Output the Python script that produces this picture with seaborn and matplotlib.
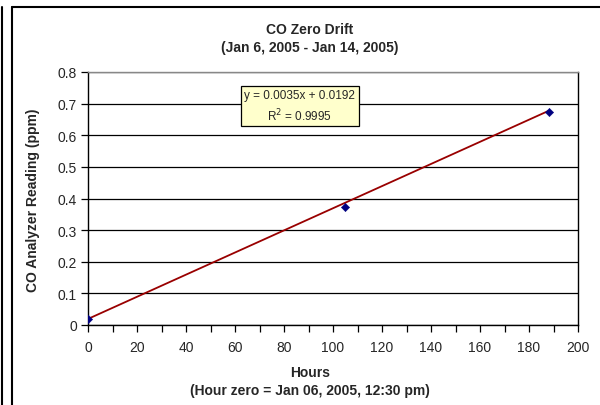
import numpy as np
import pandas as pd
import matplotlib
matplotlib.use("Agg")
import matplotlib.pyplot as plt
import seaborn as sns
from matplotlib.lines import Line2D
from matplotlib.ticker import MultipleLocator

hours = [0, 105, 188]
readings = [0.020, 0.374, 0.672]
slope = 0.0035
intercept = 0.0192
eq_text = "y = 0.0035x + 0.0192\nR$^2$ = 0.9995"
title = "CO Zero Drift\n(Jan 6, 2005 - Jan 14, 2005)"
xlabel = "Hours\n(Hour zero = Jan 06, 2005, 12:30 pm)"
ylabel = "CO Analyzer Reading (ppm)"

sns.set_style("white")
plt.rcParams['font.family'] = ['Liberation Sans', 'DejaVu Sans']

fig = plt.figure(figsize=(6.0, 4.06), dpi=100)
W, H = 600, 406
ax = fig.add_axes([88 / W, 1 - 326 / H, (578 - 88) / W, (326 - 73) / H])

df = pd.DataFrame({"Hours": hours, "Reading": readings})
xs = np.array([min(hours), max(hours)])
ax.plot(xs, slope * xs + intercept, color="#990000", lw=1.3, zorder=3)
sns.scatterplot(data=df, x="Hours", y="Reading", marker="D", s=18,
                color="#000080", edgecolor="#000080", ax=ax, zorder=4)

ax.set_xlim(0, 200)
ax.set_ylim(0, 0.8)
ax.xaxis.set_major_locator(MultipleLocator(20))
ax.xaxis.set_minor_locator(MultipleLocator(10))
ax.set_yticks(np.arange(0, 0.81, 0.1))
ax.set_yticklabels(["0"] + [f"{v:.1f}" for v in np.arange(0.1, 0.81, 0.1)])
ax.grid(axis="y", color="black", lw=0.9)
ax.grid(axis="x", visible=False)
ax.tick_params(axis="both", which="both", direction="out", length=5, width=0.9,
               color="black", labelsize=10, pad=6)
ax.tick_params(axis="y", pad=3)
ax.tick_params(bottom=True, left=True, which="both")
ax.tick_params(axis="y", which="minor", left=False)
for s in ["left", "bottom", "right"]:
    ax.spines[s].set_color("black")
    ax.spines[s].set_linewidth(1.0)
ax.spines["top"].set_color("#888888")
ax.spines["top"].set_linewidth(1.0)

ax.set_xlabel("")
ax.set_ylabel("")
fig.text(310 / W, 1 - 382 / H, xlabel, ha="center", va="center", fontsize=10,
         fontweight="bold", linespacing=1.45)
fig.text(33 / W, 1 - 200 / H, ylabel, ha="center", va="center", fontsize=10,
         fontweight="bold", rotation=90)
fig.text(310 / W, 1 - 39 / H, title, ha="center", va="center", fontsize=10,
         fontweight="bold", linespacing=1.45)

ax.text(86.5, 0.692, eq_text, ha="center", va="center", fontsize=8.5,
        linespacing=1.35,
        bbox=dict(boxstyle="square,pad=0.3", facecolor="#FFFFCC",
                  edgecolor="black", lw=0.9), zorder=5)

# outer frame
fig.add_artist(Line2D([12 / W, 12 / W], [0, 1 - 8 / H], transform=fig.transFigure,
                      color="black", lw=1.5))
fig.add_artist(Line2D([12 / W, 1], [1 - 8 / H, 1 - 8 / H], transform=fig.transFigure,
                      color="black", lw=1.5))
fig.add_artist(Line2D([2 / W, 2 / W], [0, 1 - 8 / H], transform=fig.transFigure,
                      color="black", lw=1.5))

fig.savefig("out.png", dpi=100)
